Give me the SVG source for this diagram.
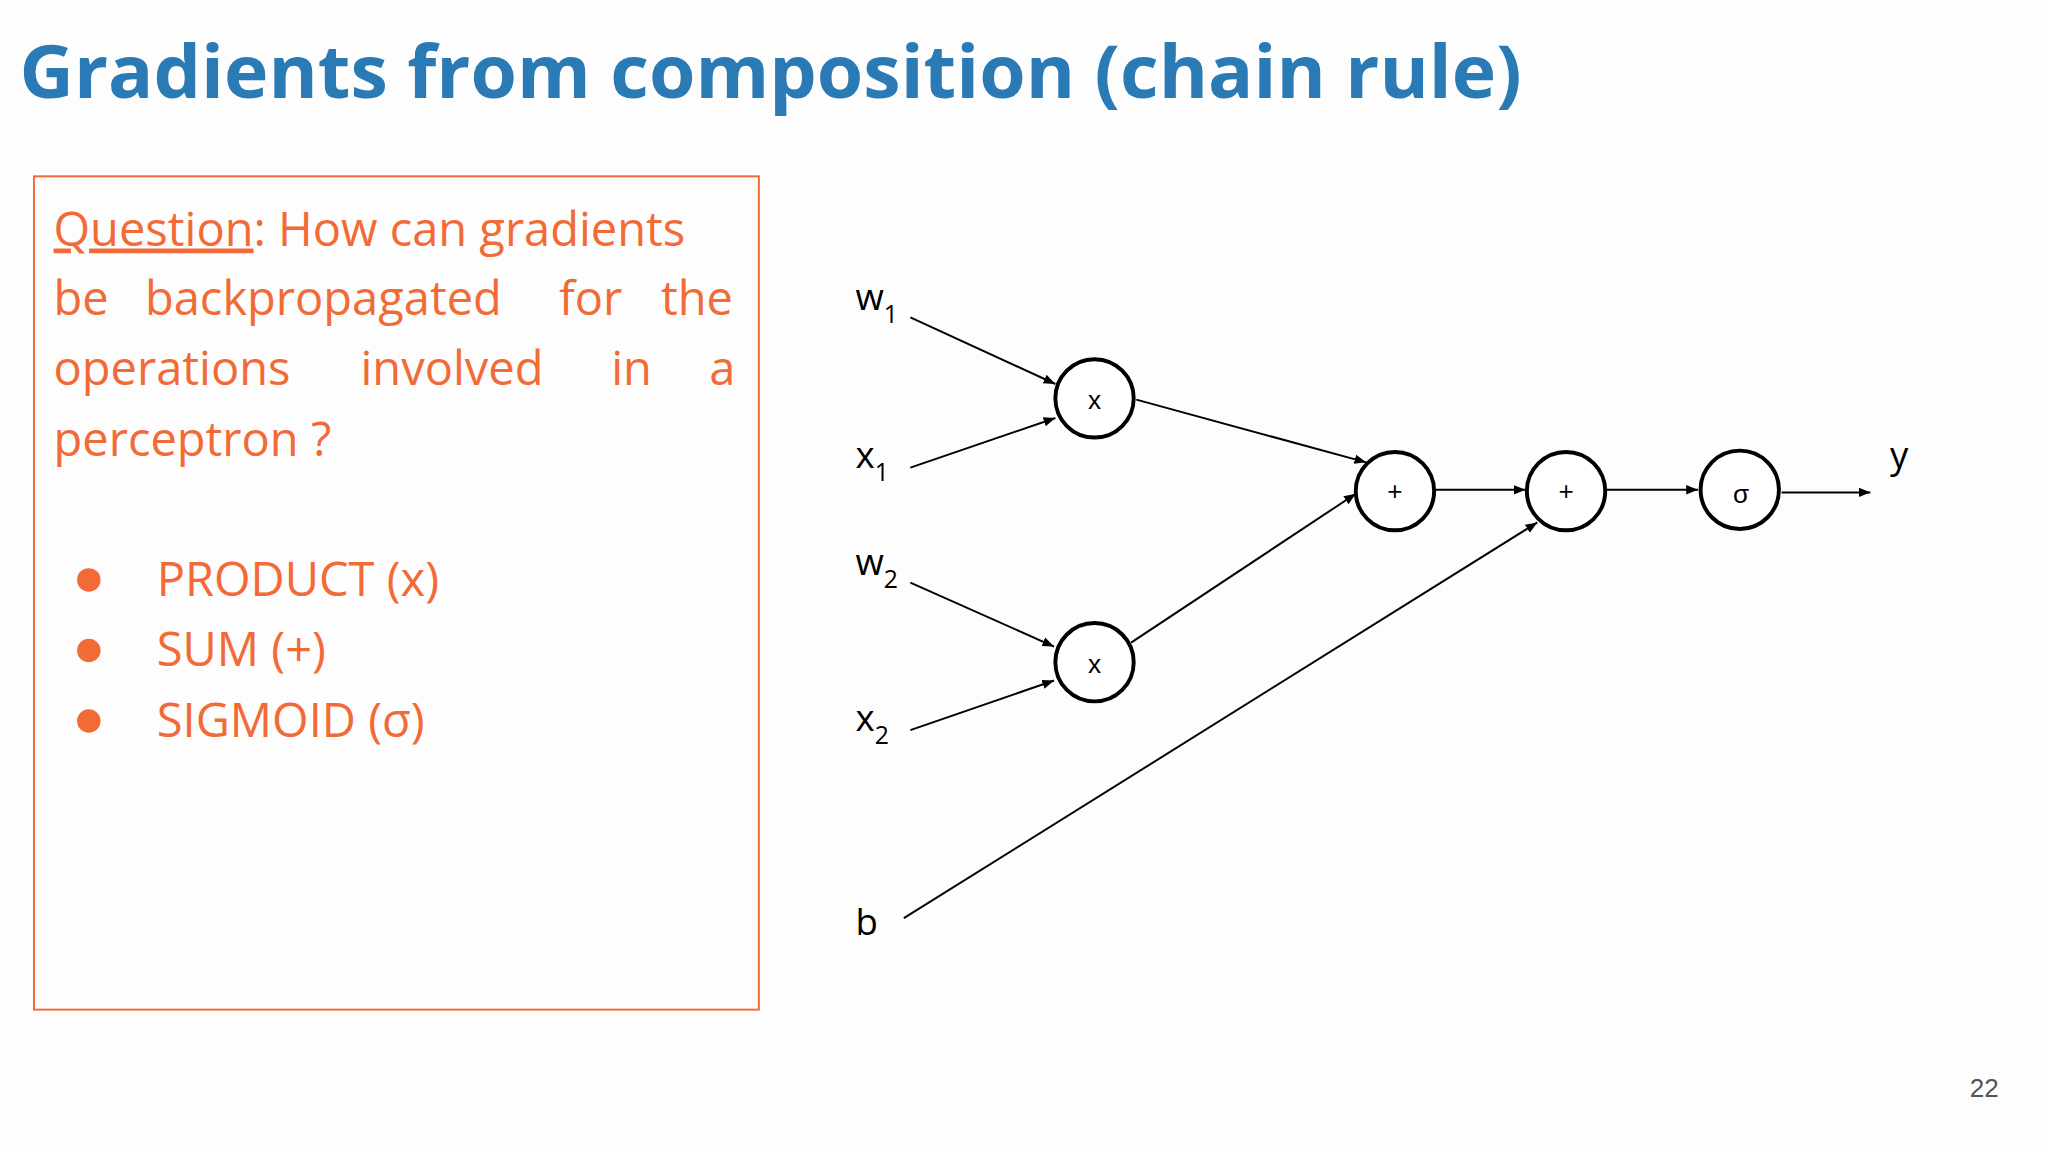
<svg xmlns="http://www.w3.org/2000/svg" width="2048" height="1152" viewBox="0 0 2048 1152">
<defs>
<marker id="ah" viewBox="0 0 10 10" refX="10" refY="5" markerWidth="9" markerHeight="9" markerUnits="userSpaceOnUse" orient="auto"><path d="M0,1 L10,5 L0,9 z" fill="#000"/></marker>
<style>
.o{fill:#f26a36;font-family:"Open Sans",sans-serif;font-size:36px}
.lbl{font-family:"Open Sans",sans-serif;font-size:28px;fill:#000}
.sub{font-size:19px}
.n circle{fill:#fff;stroke:#000;stroke-width:3}
.n text{font-family:"Liberation Sans",sans-serif;font-size:20px;text-anchor:middle;fill:#000}
#edges line{stroke:#000;stroke-width:1.5;marker-end:url(#ah)}
</style>
</defs>
<rect width="2048" height="1152" fill="#fdfdfd"/>
<g transform="scale(1.30612)">
<text x="15" y="75" font-family="Open Sans, sans-serif" font-weight="bold" font-size="56" fill="#2a7ab5" textLength="1150" lengthAdjust="spacingAndGlyphs">Gradients from composition (chain rule)</text>
<g id="box">
<rect x="26" y="135" width="555" height="638" fill="none" stroke="#f26a36" stroke-width="1.5"/>
<text class="o" x="41" y="188"><tspan text-decoration="underline">Question</tspan>: How can gradients</text>
<text class="o" y="241"><tspan x="41">be</tspan><tspan x="111">backpropagated</tspan><tspan x="428">for</tspan><tspan x="506">the</tspan></text>
<text class="o" y="295"><tspan x="41">operations</tspan><tspan x="276">involved</tspan><tspan x="468">in</tspan><tspan x="543">a</tspan></text>
<text class="o" x="41" y="349">perceptron ?</text>
<circle cx="68" cy="444" r="9" fill="#f26a36"/><circle cx="68" cy="498" r="9" fill="#f26a36"/><circle cx="68" cy="552" r="9" fill="#f26a36"/>
<text class="o" x="120" y="456">PRODUCT (x)</text>
<text class="o" x="120" y="510">SUM (+)</text>
<text class="o" x="120" y="564">SIGMOID (σ)</text>
</g>
<g id="labels">
<text class="lbl" x="655" y="237">w<tspan class="sub" dy="10">1</tspan></text>
<text class="lbl" x="655" y="358">x<tspan class="sub" dy="10">1</tspan></text>
<text class="lbl" x="655" y="440">w<tspan class="sub" dy="10">2</tspan></text>
<text class="lbl" x="655" y="560">x<tspan class="sub" dy="10">2</tspan></text>
<text class="lbl" x="655" y="716">b</text>
<text class="lbl" x="1447" y="358">y</text>
</g>
<g id="edges">
<line x1="697" y1="243" x2="808" y2="294"/>
<line x1="697" y1="358" x2="808" y2="320"/>
<line x1="870" y1="306" x2="1046" y2="354"/>
<line x1="866" y1="492" x2="1038" y2="378"/>
<line x1="697" y1="446" x2="807" y2="495"/>
<line x1="697" y1="559" x2="807" y2="521"/>
<line x1="692" y1="703" x2="1177" y2="400"/>
<line x1="1099" y1="375" x2="1168" y2="375"/>
<line x1="1230" y1="375" x2="1300" y2="375"/>
<line x1="1364" y1="377" x2="1432" y2="377"/>
</g>
<g id="n1" class="n"><circle cx="838" cy="305" r="30"/><text x="838" y="313">x</text></g>
<g id="n2" class="n"><circle cx="838" cy="507" r="30"/><text x="838" y="515">x</text></g>
<g id="p1" class="n"><circle cx="1068" cy="376" r="30"/><text x="1068" y="383">+</text></g>
<g id="p2" class="n"><circle cx="1199" cy="376" r="30"/><text x="1199" y="383">+</text></g>
<g id="s" class="n"><circle cx="1332" cy="375" r="30"/><text x="1333" y="385" font-size="24">σ</text></g>
<text x="1508" y="840" font-family="Liberation Sans, sans-serif" font-size="20" fill="#555">22</text>
</g>
</svg>
